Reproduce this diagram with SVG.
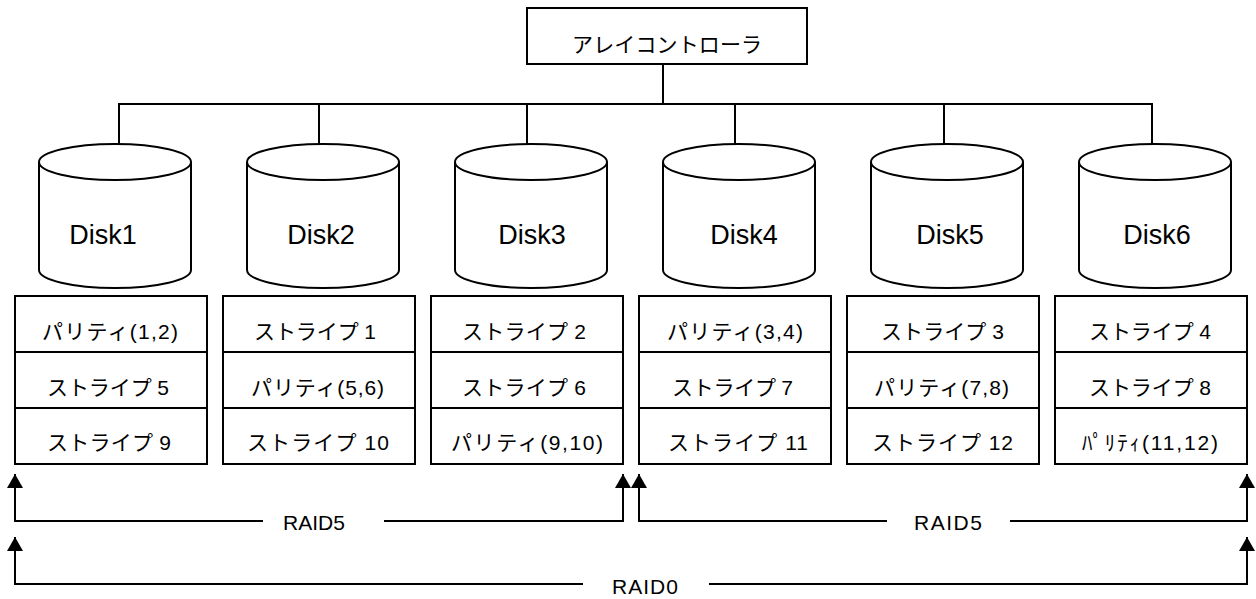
<svg xmlns="http://www.w3.org/2000/svg" width="1256" height="599" viewBox="0 0 1256 599">
<style>
  .ln{fill:none;stroke:#000;stroke-width:2}
  .box{fill:#fff;stroke:#000;stroke-width:2}
  .jp{font-family:"Liberation Sans","Noto Sans CJK JP",sans-serif;font-size:21px;fill:#000}
  .ctl{font-family:"Noto Sans CJK JP",sans-serif;font-size:21px;fill:#000}
  .dk{font-family:"Liberation Sans",Arial,sans-serif;font-size:27px;fill:#000;text-anchor:middle}
  .raid{font-family:"Liberation Sans",Arial,sans-serif;font-size:21px;fill:#000}
</style>
<defs>
  <marker id="ah" viewBox="0 0 14 16" markerWidth="14" markerHeight="16" refX="14" refY="8" orient="auto" markerUnits="userSpaceOnUse">
    <path d="M0,0 L14,8 L0,16 Z" fill="#000"/>
  </marker>
</defs>
<rect width="1256" height="599" fill="#fff"/>

<g id="connectors">
  <path class="ln" d="M663,64 V104"/>
  <path class="ln" d="M119,144 V104 H1152 V144"/>
  <path class="ln" d="M319,104 V144"/>
  <path class="ln" d="M527,104 V144"/>
  <path class="ln" d="M735,104 V144"/>
  <path class="ln" d="M944,104 V144"/>
  <path class="ln" d="M263,521 H15 V474" marker-end="url(#ah)"/>
  <path class="ln" d="M384,521 H623 V474" marker-end="url(#ah)"/>
  <path class="ln" d="M887,521 H639 V474" marker-end="url(#ah)"/>
  <path class="ln" d="M1010,521 H1247 V474" marker-end="url(#ah)"/>
  <path class="ln" d="M583,584 H15 V537" marker-end="url(#ah)"/>
  <path class="ln" d="M709,584 H1247 V537" marker-end="url(#ah)"/>
  <text class="raid" x="283" y="530" textLength="62" lengthAdjust="spacing">RAID5</text>
  <text class="raid" x="914" y="530" textLength="68" lengthAdjust="spacing">RAID5</text>
  <text class="raid" x="612" y="594" textLength="66" lengthAdjust="spacing">RAID0</text>
</g>

<g id="controller">
  <rect class="box" x="527" y="8" width="280" height="56"/>
  <text class="ctl" x="572" y="52" textLength="190" lengthAdjust="spacing">アレイコントローラ</text>
</g>

<g id="disk1">
  <path class="box" d="M39,162 A76,18 0 0,1 191,162 V270 A76,18 0 0,1 39,270 Z"/>
  <path class="ln" d="M39,162 A76,18 0 0,0 191,162"/>
  <text class="dk" x="103" y="244">Disk1</text>
</g>
<g id="disk2">
  <path class="box" d="M247,162 A76,18 0 0,1 399,162 V270 A76,18 0 0,1 247,270 Z"/>
  <path class="ln" d="M247,162 A76,18 0 0,0 399,162"/>
  <text class="dk" x="321" y="244">Disk2</text>
</g>
<g id="disk3">
  <path class="box" d="M455,162 A76,18 0 0,1 607,162 V270 A76,18 0 0,1 455,270 Z"/>
  <path class="ln" d="M455,162 A76,18 0 0,0 607,162"/>
  <text class="dk" x="532" y="244">Disk3</text>
</g>
<g id="disk4">
  <path class="box" d="M663,162 A76,18 0 0,1 815,162 V270 A76,18 0 0,1 663,270 Z"/>
  <path class="ln" d="M663,162 A76,18 0 0,0 815,162"/>
  <text class="dk" x="744" y="244">Disk4</text>
</g>
<g id="disk5">
  <path class="box" d="M871,162 A76,18 0 0,1 1023,162 V270 A76,18 0 0,1 871,270 Z"/>
  <path class="ln" d="M871,162 A76,18 0 0,0 1023,162"/>
  <text class="dk" x="950" y="244">Disk5</text>
</g>
<g id="disk6">
  <path class="box" d="M1079,162 A76,18 0 0,1 1231,162 V270 A76,18 0 0,1 1079,270 Z"/>
  <path class="ln" d="M1079,162 A76,18 0 0,0 1231,162"/>
  <text class="dk" x="1157" y="244">Disk6</text>
</g>

<g id="table1">
  <rect class="box" x="15" y="296" width="192" height="56"/>
  <rect class="box" x="15" y="352" width="192" height="56"/>
  <rect class="box" x="15" y="408" width="192" height="56"/>
  <text class="jp" x="42" y="339" textLength="136" lengthAdjust="spacing">パリティ(1,2)</text>
  <text class="jp" x="47" y="395" textLength="122" lengthAdjust="spacing">ストライプ 5</text>
  <text class="jp" x="47" y="450" textLength="124" lengthAdjust="spacing">ストライプ 9</text>
</g>
<g id="table2">
  <rect class="box" x="223" y="296" width="192" height="56"/>
  <rect class="box" x="223" y="352" width="192" height="56"/>
  <rect class="box" x="223" y="408" width="192" height="56"/>
  <text class="jp" x="254" y="339" textLength="122" lengthAdjust="spacing">ストライプ 1</text>
  <text class="jp" x="251" y="395" textLength="133" lengthAdjust="spacing">パリティ(5,6)</text>
  <text class="jp" x="247" y="450" textLength="142" lengthAdjust="spacing">ストライプ 10</text>
</g>
<g id="table3">
  <rect class="box" x="431" y="296" width="192" height="56"/>
  <rect class="box" x="431" y="352" width="192" height="56"/>
  <rect class="box" x="431" y="408" width="192" height="56"/>
  <text class="jp" x="462" y="339" textLength="124" lengthAdjust="spacing">ストライプ 2</text>
  <text class="jp" x="462" y="395" textLength="124" lengthAdjust="spacing">ストライプ 6</text>
  <text class="jp" x="451" y="450" textLength="152" lengthAdjust="spacing">パリティ(9,10)</text>
</g>
<g id="table4">
  <rect class="box" x="639" y="296" width="192" height="56"/>
  <rect class="box" x="639" y="352" width="192" height="56"/>
  <rect class="box" x="639" y="408" width="192" height="56"/>
  <text class="jp" x="667" y="339" textLength="136" lengthAdjust="spacing">パリティ(3,4)</text>
  <text class="jp" x="672" y="395" textLength="121" lengthAdjust="spacing">ストライプ 7</text>
  <text class="jp" x="668" y="450" textLength="140" lengthAdjust="spacing">ストライプ 11</text>
</g>
<g id="table5">
  <rect class="box" x="847" y="296" width="192" height="56"/>
  <rect class="box" x="847" y="352" width="192" height="56"/>
  <rect class="box" x="847" y="408" width="192" height="56"/>
  <text class="jp" x="881" y="339" textLength="123" lengthAdjust="spacing">ストライプ 3</text>
  <text class="jp" x="874" y="395" textLength="135" lengthAdjust="spacing">パリティ(7,8)</text>
  <text class="jp" x="872" y="450" textLength="141" lengthAdjust="spacing">ストライプ 12</text>
</g>
<g id="table6">
  <rect class="box" x="1055" y="296" width="192" height="56"/>
  <rect class="box" x="1055" y="352" width="192" height="56"/>
  <rect class="box" x="1055" y="408" width="192" height="56"/>
  <text class="jp" x="1089" y="339" textLength="122" lengthAdjust="spacing">ストライプ 4</text>
  <text class="jp" x="1089" y="395" textLength="122" lengthAdjust="spacing">ストライプ 8</text>
  <text class="jp" x="1082" y="450" textLength="136" lengthAdjust="spacing">ﾊﾟﾘﾃｨ(11,12)</text>
</g>
</svg>
